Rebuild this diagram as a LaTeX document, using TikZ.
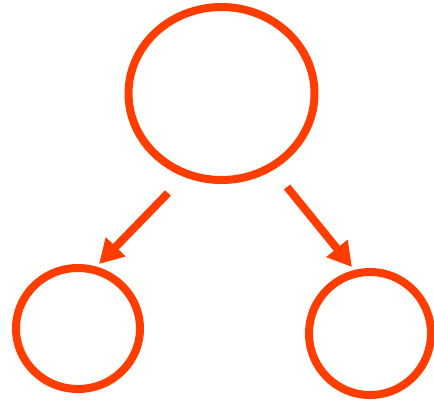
\documentclass[tikz,border=0pt]{standalone}
\usetikzlibrary{arrows.meta,shapes.geometric}
\definecolor{redorange}{RGB}{255,61,0}
\begin{document}
\begin{tikzpicture}[x=1bp,y=-1bp,
  ring/.style={draw=redorange,line width=8bp,ellipse,inner sep=0pt,outer sep=0pt},
  link/.style={draw=redorange,line width=8bp,-{Triangle[length=24bp,width=26bp]}}]
\useasboundingbox (0,0) rectangle (434,399);
\node[ring,minimum width=186bp,minimum height=173bp] (top) at (221.5,93.5) {};
\node[ring,minimum width=124bp,minimum height=121bp] (left) at (78,328.5) {};
\node[ring,minimum width=122bp,minimum height=123bp] (right) at (370,333.5) {};
\coordinate (ls) at (168,193);
\coordinate (le) at (99,264);
\coordinate (rs) at (287,187);
\coordinate (re) at (352,267);
\draw[link] (ls) -- (le);
\draw[link] (rs) -- (re);
\end{tikzpicture}
\end{document}
